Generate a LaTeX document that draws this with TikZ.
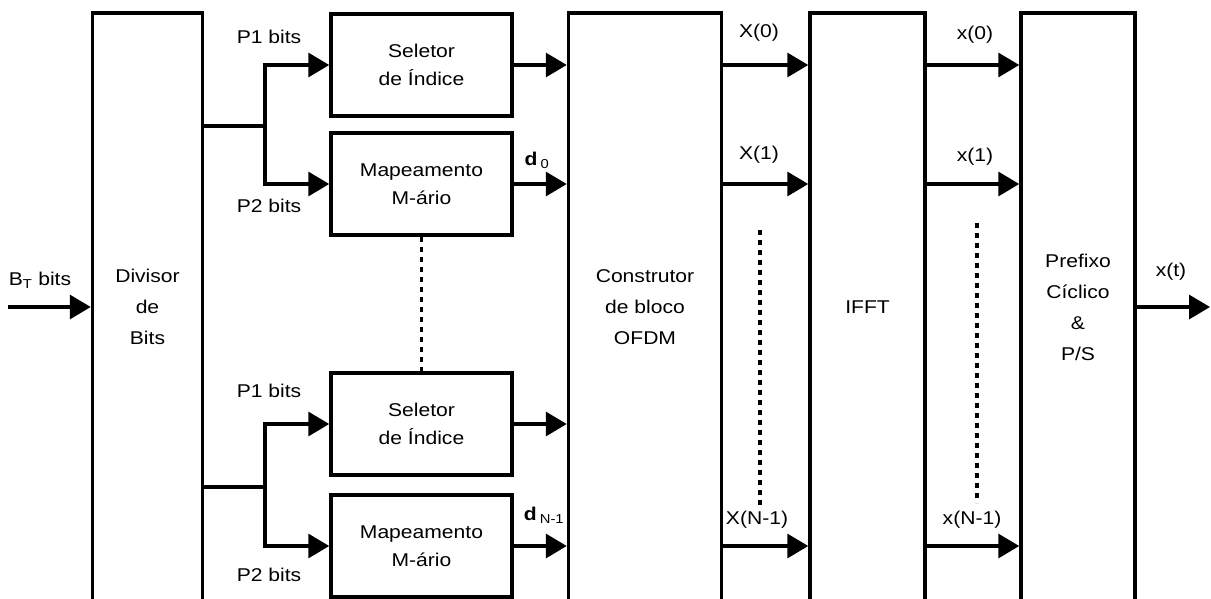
\documentclass[tikz,border=0pt]{standalone}
\usepackage{fontspec}
\setmainfont[FakeStretch=1.14]{Liberation Sans}
\usetikzlibrary{arrows.meta}

\begin{document}
\begin{tikzpicture}[x=1pt,y=-1pt,
    every node/.style={font=\fontsize{18.5}{28}\selectfont},
    blk/.style={draw,line width=3.5pt,minimum width=181pt,minimum height=102pt,align=center,inner sep=0pt},
    tallblk/.style={draw,line width=3.5pt,minimum height=588pt,align=center,inner sep=0pt,font=\fontsize{18.5}{31}\selectfont},
    arr/.style={line width=3.5pt,-{Triangle[length=21pt,width=24pt]}},
    wire/.style={line width=3.5pt},
    dotline/.style={line width=3.5pt,dash pattern=on 5pt off 5pt}]
    \clip (0,0) rectangle (1211,598);
    % tall blocks
    \node[tallblk,minimum width=110pt] (div) at (147.5,307) {Divisor\\de\\Bits};
    \node[tallblk,minimum width=153pt] (cons) at (645,307) {Construtor\\de bloco\\OFDM};
    \node[tallblk,minimum width=115pt] (ifft) at (867.5,307) {IFFT};
    \node[tallblk,minimum width=114pt] (cp) at (1078,307) {Prefixo\\Cíclico\\\&\\P/S};
    % small blocks
    \node[blk] (sel1) at (421.5,65) {Seletor\\de Índice};
    \node[blk] (map1) at (421.5,184) {Mapeamento\\M-ário};
    \node[blk] (sel2) at (421.5,424) {Seletor\\de Índice};
    \node[blk] (map2) at (421.5,546) {Mapeamento\\M-ário};
    \coordinate (in) at (8,307);
    \coordinate (out) at (1210,307);
    \coordinate (br1) at (265,126);
    \coordinate (br2) at (265,487);
    \draw[arr] (in) -- (div);
    \draw[arr] (cp) -- (out);
    \foreach \b/\s/\m in {br1/sel1/map1, br2/sel2/map2} {
      \draw[wire] (div.east |- \b) -- (\b);
      \draw[arr] (\b) |- (\s);
      \draw[arr] (\b) |- (\m);
      \draw[arr] (\s) -- (\s -| cons.west);
      \draw[arr] (\m) -- (\m -| cons.west);
    }
    \foreach \r in {sel1, map1, map2} {
      \draw[arr] (\r -| cons.east) -- (\r -| ifft.west);
      \draw[arr] (\r -| ifft.east) -- (\r -| cp.west);
    }
    % dots
    \draw[dotline] (map1) -- (sel2);
    \draw[dotline] (760,230) -- (760,507);
    \draw[dotline] (977,223) -- (977,503);
    % labels
    \node (lin) at (40,280) {B\textsubscript{T} bits};
    \node (lout) at (1171,272) {x(t)};
    \node (lp1a) at (269,37) {P1 bits};
    \node (lp2a) at (269,206) {P2 bits};
    \node (lp1b) at (269,391) {P1 bits};
    \node (lp2b) at (269,575) {P2 bits};
    \node (ld0) at (537,160) {\textbf{d}\,\textsubscript{0}};
    \node (ldn) at (544,515) {\textbf{d}\,\textsubscript{N-1}};
    \node (lX0) at (759,33) {X(0)};
    \node (lX1) at (759,155) {X(1)};
    \node (lXn) at (757,520) {X(N-1)};
    \node (lx0) at (975,35) {x(0)};
    \node (lx1) at (975,157) {x(1)};
    \node (lxn) at (972,520) {x(N-1)};
\end{tikzpicture}
\end{document}
